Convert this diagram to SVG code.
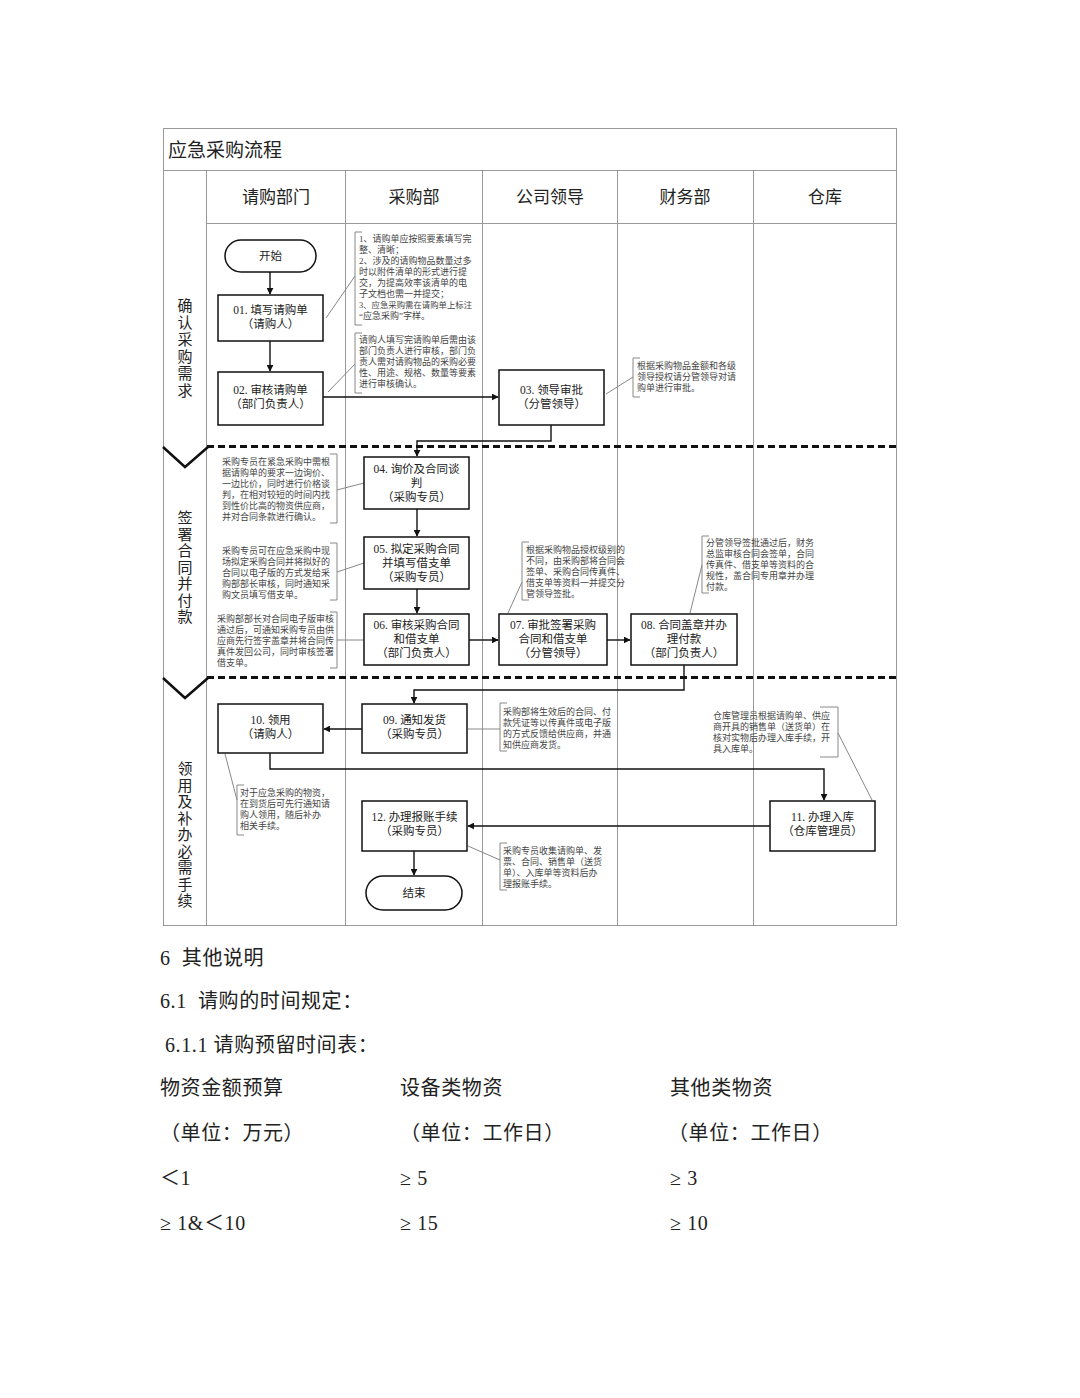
<svg xmlns="http://www.w3.org/2000/svg" width="1080" height="1398" viewBox="0 0 1080 1398">
<style>
text{font-family:"Liberation Serif","Noto Sans CJK SC",serif;fill:#222}
.grid{stroke:#999;stroke-width:1;fill:none}
.hdr{font-size:17px;text-anchor:middle}
.node rect{fill:#fff;stroke:#111;stroke-width:1.5}
.nt{font-size:11.5px;text-anchor:middle}
.ann{font-size:9px;fill:#444}
.br{stroke:#888;stroke-width:1;fill:none}
.conn path{stroke:#111;stroke-width:1.4;fill:none;marker-end:url(#ah)}
.sep{stroke:#111;stroke-width:3;stroke-dasharray:7 4;fill:none}
.chev{stroke:#111;stroke-width:2.5;fill:none}
.ph{font-size:15px;text-anchor:middle}
.body{font-size:20px;letter-spacing:0.6px}
</style>
<defs>
<marker id="ah" viewBox="0 0 10 10" refX="9" refY="5" markerWidth="7" markerHeight="7" orient="auto" markerUnits="userSpaceOnUse">
<path d="M0,0 L10,5 L0,10 z" fill="#111"/>
</marker>
</defs>
<rect width="1080" height="1398" fill="#fff"/>
<g id="frame">
<rect class="grid" x="163.5" y="128.5" width="733" height="797"/>
<line class="grid" x1="163" y1="170.5" x2="897" y2="170.5"/>
<line class="grid" x1="206" y1="223.5" x2="897" y2="223.5"/>
<line class="grid" x1="206.5" y1="170" x2="206.5" y2="926"/>
<line class="grid" x1="345.5" y1="170" x2="345.5" y2="926"/>
<line class="grid" x1="482.5" y1="170" x2="482.5" y2="926"/>
<line class="grid" x1="617.5" y1="170" x2="617.5" y2="926"/>
<line class="grid" x1="753.5" y1="170" x2="753.5" y2="926"/>
<text x="168" y="157" style="font-size:19px">应急采购流程</text>
<text class="hdr" x="276" y="203">请购部门</text>
<text class="hdr" x="414" y="203">采购部</text>
<text class="hdr" x="550" y="203">公司领导</text>
<text class="hdr" x="685" y="203">财务部</text>
<text class="hdr" x="825" y="203">仓库</text>
</g>
<g id="phases">
<path class="sep" d="M207,446.5 H897"/>
<path class="sep" d="M207,677.5 H897"/>
<path class="chev" d="M163,447 L185,467 L208,447"/>
<path class="chev" d="M163,678 L185,698 L208,678"/>
<text class="ph" x="185"><tspan x="185" y="311">确</tspan><tspan x="185" dy="17">认</tspan><tspan x="185" dy="17">采</tspan><tspan x="185" dy="17">购</tspan><tspan x="185" dy="17">需</tspan><tspan x="185" dy="17">求</tspan></text>
<text class="ph" x="185"><tspan x="185" y="523">签</tspan><tspan x="185" dy="16.5">署</tspan><tspan x="185" dy="16.5">合</tspan><tspan x="185" dy="16.5">同</tspan><tspan x="185" dy="16.5">并</tspan><tspan x="185" dy="16.5">付</tspan><tspan x="185" dy="16.5">款</tspan></text>
<text class="ph" x="185"><tspan x="185" y="774">领</tspan><tspan x="185" dy="16.5">用</tspan><tspan x="185" dy="16.5">及</tspan><tspan x="185" dy="16.5">补</tspan><tspan x="185" dy="16.5">办</tspan><tspan x="185" dy="16.5">必</tspan><tspan x="185" dy="16.5">需</tspan><tspan x="185" dy="16.5">手</tspan><tspan x="185" dy="16.5">续</tspan></text>
</g>
<g id="annotations">
<path class="br" d="M362,232 H355 V325 H362 M355,276 L326,318"/>
<text class="ann"><tspan x="359" y="242">1、请购单应按照要素填写完</tspan><tspan x="359" y="253">整、清晰；</tspan><tspan x="359" y="264">2、涉及的请购物品数量过多</tspan><tspan x="359" y="275">时以附件清单的形式进行提</tspan><tspan x="359" y="286">交，为提高效率该清单的电</tspan><tspan x="359" y="297">子文档也需一并提交；</tspan><tspan x="359" y="308" style="font-size:8.4px">3、应急采购需在请购单上标注</tspan><tspan x="359" y="319">“应急采购”字样。</tspan></text>
<path class="br" d="M362,333 H355 V393 H362 M355,364 L328,392"/>
<text class="ann"><tspan x="359" y="343">请购人填写完请购单后需由该</tspan><tspan x="359" y="354">部门负责人进行审核，部门负</tspan><tspan x="359" y="365">责人需对请购物品的采购必要</tspan><tspan x="359" y="376">性、用途、规格、数量等要素</tspan><tspan x="359" y="387">进行审核确认。</tspan></text>
<path class="br" d="M640,358 H633 V397 H640 M633,377 L606,394"/>
<text class="ann"><tspan x="637" y="369">根据采购物品金额和各级</tspan><tspan x="637" y="380">领导授权请分管领导对请</tspan><tspan x="637" y="391">购单进行审批。</tspan></text>
<path class="br" d="M330,454 H337 V523 H330 M337,490 L364,483"/>
<text class="ann"><tspan x="222" y="465">采购专员在紧急采购中需根</tspan><tspan x="222" y="476">据请购单的要求一边询价、</tspan><tspan x="222" y="487">一边比价，同时进行价格谈</tspan><tspan x="222" y="498">判，在相对较短的时间内找</tspan><tspan x="222" y="509">到性价比高的物资供应商，</tspan><tspan x="222" y="520">并对合同条款进行确认。</tspan></text>
<path class="br" d="M330,543 H337 V600 H330 M337,572 L364,563"/>
<text class="ann"><tspan x="222" y="554">采购专员可在应急采购中现</tspan><tspan x="222" y="565">场拟定采购合同并将拟好的</tspan><tspan x="222" y="576">合同以电子版的方式发给采</tspan><tspan x="222" y="587">购部部长审核，同时通知采</tspan><tspan x="222" y="598">购文员填写借支单。</tspan></text>
<path class="br" d="M330,612 H337 V668 H330 M337,640 L364,640"/>
<text class="ann"><tspan x="217" y="622">采购部部长对合同电子版审核</tspan><tspan x="217" y="633">通过后，可通知采购专员由供</tspan><tspan x="217" y="644">应商先行签字盖章并将合同传</tspan><tspan x="217" y="655">真件发回公司，同时审核签署</tspan><tspan x="217" y="666">借支单。</tspan></text>
<path class="br" d="M529,542 H522 V600 H529 M522,582 L508,613"/>
<text class="ann"><tspan x="526" y="553">根据采购物品授权级别的</tspan><tspan x="526" y="564">不同，由采购部将合同会</tspan><tspan x="526" y="575">签单、采购合同传真件、</tspan><tspan x="526" y="586">借支单等资料一并提交分</tspan><tspan x="526" y="597">管领导签批。</tspan></text>
<path class="br" d="M709,536 H702 V593 H709 M702,565 L690,613"/>
<text class="ann"><tspan x="706" y="546">分管领导签批通过后，财务</tspan><tspan x="706" y="557">总监审核合同会签单，合同</tspan><tspan x="706" y="568">传真件、借支单等资料的合</tspan><tspan x="706" y="579">规性，盖合同专用章并办理</tspan><tspan x="706" y="590">付款。</tspan></text>
<path class="br" d="M507,703 H500 V751 H507 M500,729 L468,729"/>
<text class="ann"><tspan x="503" y="715">采购部将生效后的合同、付</tspan><tspan x="503" y="726">款凭证等以传真件或电子版</tspan><tspan x="503" y="737">的方式反馈给供应商，并通</tspan><tspan x="503" y="748">知供应商发货。</tspan></text>
<path class="br" d="M820,707 H838 V757 H820 M838,733 L872,800"/>
<text class="ann"><tspan x="713" y="719">仓库管理员根据请购单、供应</tspan><tspan x="713" y="730">商开具的销售单（送货单）在</tspan><tspan x="713" y="741">核对实物后办理入库手续，开</tspan><tspan x="713" y="752">具入库单。</tspan></text>
<path class="br" d="M244,785 H237 V835 H244 M237,800 L225,754"/>
<text class="ann"><tspan x="240" y="796">对于应急采购的物资，</tspan><tspan x="240" y="807">在到货后可先行通知请</tspan><tspan x="240" y="818">购人领用，随后补办</tspan><tspan x="240" y="829">相关手续。</tspan></text>
<path class="br" d="M507,843 H500 V890 H507 M500,860 L468,846"/>
<text class="ann"><tspan x="503" y="854">采购专员收集请购单、发</tspan><tspan x="503" y="865">票、合同、销售单（送货</tspan><tspan x="503" y="876">单）、入库单等资料后办</tspan><tspan x="503" y="887">理报账手续。</tspan></text>
</g>
<g class="conn" id="connectors">
<path d="M270,272 V294"/>
<path d="M270,341 V371"/>
<path d="M323,397 H498"/>
<path d="M551,425 V441 H417 V456"/>
<path d="M417,509 V536"/>
<path d="M417,589 V613"/>
<path d="M469,640 H498"/>
<path d="M607,640 H630"/>
<path d="M684,665 V690 H414 V703"/>
<path d="M362,729 H324"/>
<path d="M270,753 V769 H824 V800"/>
<path d="M770,826 H468"/>
<path d="M414,851 V875"/>
</g>
<g class="node" id="start"><rect x="225" y="240" width="91" height="32" rx="16"/><text class="nt" x="270.5" y="260">开始</text></g>
<g class="node" id="n01"><rect x="218" y="295" width="105" height="46"/><text class="nt"><tspan x="270.5" y="314">01. 填写请购单</tspan><tspan x="270.5" y="328">（请购人）</tspan></text></g>
<g class="node" id="n02"><rect x="218" y="372" width="105" height="53"/><text class="nt"><tspan x="270.5" y="394">02. 审核请购单</tspan><tspan x="270.5" y="408">（部门负责人）</tspan></text></g>
<g class="node" id="n03"><rect x="499" y="370" width="105" height="55"/><text class="nt"><tspan x="551.5" y="394">03. 领导审批</tspan><tspan x="551.5" y="408">（分管领导）</tspan></text></g>
<g class="node" id="n04"><rect x="364" y="457" width="105" height="52"/><text class="nt"><tspan x="416.5" y="473">04. 询价及合同谈</tspan><tspan x="416.5" y="487">判</tspan><tspan x="416.5" y="501">（采购专员）</tspan></text></g>
<g class="node" id="n05"><rect x="364" y="537" width="105" height="52"/><text class="nt"><tspan x="416.5" y="553">05. 拟定采购合同</tspan><tspan x="416.5" y="567">并填写借支单</tspan><tspan x="416.5" y="581">（采购专员）</tspan></text></g>
<g class="node" id="n06"><rect x="364" y="614" width="105" height="51"/><text class="nt"><tspan x="416.5" y="629">06. 审核采购合同</tspan><tspan x="416.5" y="643">和借支单</tspan><tspan x="416.5" y="657">（部门负责人）</tspan></text></g>
<g class="node" id="n07"><rect x="499" y="614" width="108" height="51"/><text class="nt"><tspan x="553" y="629">07. 审批签署采购</tspan><tspan x="553" y="643">合同和借支单</tspan><tspan x="553" y="657">（分管领导）</tspan></text></g>
<g class="node" id="n08"><rect x="631" y="614" width="106" height="51"/><text class="nt"><tspan x="684" y="629">08. 合同盖章并办</tspan><tspan x="684" y="643">理付款</tspan><tspan x="684" y="657">（部门负责人）</tspan></text></g>
<g class="node" id="n09"><rect x="362" y="704" width="105" height="49"/><text class="nt"><tspan x="414.5" y="724">09. 通知发货</tspan><tspan x="414.5" y="738">（采购专员）</tspan></text></g>
<g class="node" id="n10"><rect x="218" y="704" width="105" height="49"/><text class="nt"><tspan x="270.5" y="724">10. 领用</tspan><tspan x="270.5" y="738">（请购人）</tspan></text></g>
<g class="node" id="n11"><rect x="770" y="801" width="105" height="50"/><text class="nt"><tspan x="822.5" y="821">11. 办理入库</tspan><tspan x="822.5" y="835">（仓库管理员）</tspan></text></g>
<g class="node" id="n12"><rect x="362" y="801" width="105" height="50"/><text class="nt"><tspan x="414.5" y="821">12. 办理报账手续</tspan><tspan x="414.5" y="835">（采购专员）</tspan></text></g>
<g class="node" id="end"><rect x="366" y="876" width="96" height="34" rx="17"/><text class="nt" x="414" y="897">结束</text></g>
<g id="notes">
<text class="body" x="160" y="965" xml:space="preserve">6  其他说明</text>
<text class="body" x="160" y="1008" xml:space="preserve">6.1  请购的时间规定：</text>
<text class="body" x="165" y="1052">6.1.1 请购预留时间表：</text>
<text class="body" x="160" y="1095">物资金额预算</text>
<text class="body" x="400" y="1095">设备类物资</text>
<text class="body" x="670" y="1095">其他类物资</text>
<text class="body" x="160" y="1140">（单位：万元）</text>
<text class="body" x="400" y="1140">（单位：工作日）</text>
<text class="body" x="668" y="1140">（单位：工作日）</text>
<text class="body" x="160" y="1185">＜1</text>
<text class="body" x="400" y="1185">≥ 5</text>
<text class="body" x="670" y="1185">≥ 3</text>
<text class="body" x="160" y="1230">≥ 1&amp;＜10</text>
<text class="body" x="400" y="1230">≥ 15</text>
<text class="body" x="670" y="1230">≥ 10</text>
</g>
</svg>
